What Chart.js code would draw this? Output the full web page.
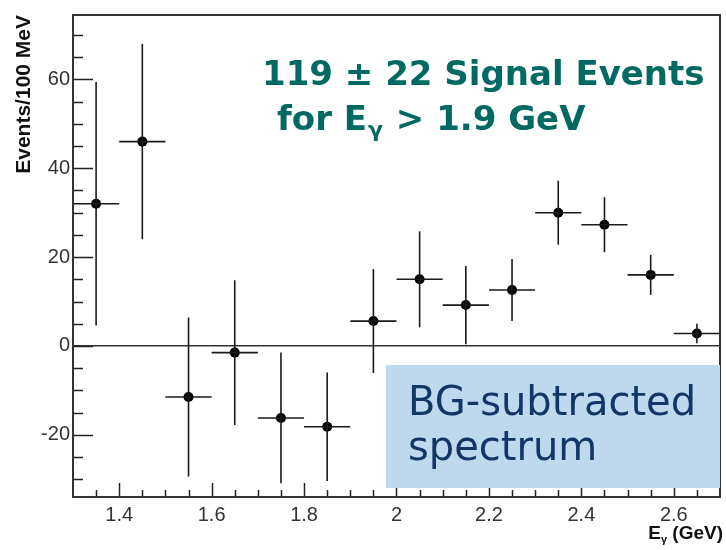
<!DOCTYPE html>
<html><head><meta charset="utf-8">
<script src="https://cdn.jsdelivr.net/npm/chart.js@4/dist/chart.umd.min.js"></script>
<style>html,body{margin:0;padding:0;background:#fff}#wrap{width:726px;height:550px;position:relative}</style>
</head><body><div id="wrap"><canvas id="c" width="726" height="550"></canvas></div>
<script>
// ---- data ----
const binCenters = [1.35, 1.45, 1.55, 1.65, 1.75, 1.85, 1.95, 2.05, 2.15, 2.25, 2.35, 2.45, 2.55, 2.65];
const eventCounts = [32.0, 46.0, -11.5, -1.5, -16.2, -18.2, 5.6, 15.0, 9.2, 12.6, 30.0, 27.3, 16.0, 2.8];
const eventErrors = [27.4, 22.0, 17.9, 16.3, 14.7, 12.2, 11.7, 10.8, 8.8, 7.0, 7.2, 6.2, 4.5, 2.2];
const binHalfWidth = 0.05;
const xTickLabels = [1.4, 1.6, 1.8, 2, 2.2, 2.4, 2.6];
const yTickLabels = [-20, 0, 20, 40, 60];
const yTitle = 'Events/100 MeV';
const noteLine1 = '119 ± 22 Signal Events';
const noteLine2 = ['for E', 'γ', ' > 1.9 GeV'];
const boxLines = ['BG-subtracted', 'spectrum'];

// ---- datasets ----
const ink = '#1a1a1a';
const datasets = [];
binCenters.forEach((x, i) => {
  const y = eventCounts[i], e = eventErrors[i];
  datasets.push({ data: [{x: x, y: y - e}, {x: x, y: y + e}], showLine: true, pointRadius: 0, borderColor: ink, borderWidth: 1.6 });
  datasets.push({ data: [{x: x - binHalfWidth, y: y}, {x: x + binHalfWidth, y: y}], showLine: true, pointRadius: 0, borderColor: ink, borderWidth: 1.6 });
});
datasets.push({ data: binCenters.map((x, i) => ({x: x, y: eventCounts[i]})), showLine: false, pointRadius: 5, pointBackgroundColor: '#000', pointBorderColor: '#000', pointBorderWidth: 0 });

const near = (v, arr) => arr.some(a => Math.abs(a - v) < 1e-6);
const sans = '"Liberation Sans", Arial, sans-serif';
const comic = '"Comic Sans MS", "DejaVu Sans", sans-serif';

const decor = {
  id: 'decor',
  afterDraw(chart) {
    const ctx = chart.ctx, a = chart.chartArea;
    const xs = chart.scales.x, ys = chart.scales.y;
    ctx.save();
    ctx.strokeStyle = '#222';
    ctx.lineWidth = 1.5;
    // inward ticks
    ctx.beginPath();
    ys.ticks.forEach(t => {
      const p = Math.round(ys.getPixelForValue(t.value)) + 0.5;
      if (p < a.top + 1 || p > a.bottom - 1) return;
      const len = near(t.value, yTickLabels) || Math.abs(t.value % 20) < 1e-6 ? 20 : 10;
      ctx.moveTo(a.left, p); ctx.lineTo(a.left + len, p);
    });
    xs.ticks.forEach(t => {
      const p = Math.round(xs.getPixelForValue(t.value)) + 0.5;
      if (p < a.left + 1 || p > a.right - 1) return;
      const len = near(t.value, xTickLabels) ? 14 : 7;
      ctx.moveTo(p, a.bottom); ctx.lineTo(p, a.bottom - len);
    });
    ctx.stroke();
    // frame
    ctx.lineWidth = 2;
    ctx.strokeStyle = '#333';
    ctx.strokeRect(a.left, a.top, a.right - a.left, a.bottom - a.top);

    // y title
    ctx.fillStyle = '#111';
    ctx.font = 'bold 21px ' + sans;
    ctx.translate(24, a.top);
    ctx.rotate(-Math.PI / 2);
    ctx.textAlign = 'right';
    ctx.textBaseline = 'middle';
    ctx.fillText(yTitle, 0, 0);
    ctx.setTransform(1, 0, 0, 1, 0, 0);

    // x title E_γ (GeV)
    ctx.textBaseline = 'alphabetic';
    ctx.textAlign = 'left';
    const f1 = 'bold 19px ' + sans;
    const f2 = 'bold 11px ' + sans;
    ctx.font = f1; const wE = ctx.measureText('E').width; const wR = ctx.measureText(' (GeV)').width;
    ctx.font = f2; const wG = ctx.measureText('γ').width;
    let x0 = 723 - (wE + wG + wR);
    ctx.font = f1; ctx.fillText('E', x0, 539);
    ctx.font = f2; ctx.fillText('γ', x0 + wE, 543);
    ctx.font = f1; ctx.fillText(' (GeV)', x0 + wE + wG, 539);

    // teal note
    ctx.fillStyle = '#006a62';
    const nf = 'bold 34px ' + comic;
    const nfs = 'bold 22px ' + comic;
    ctx.font = nf;
    ctx.fillText(noteLine1, 262, 85);
    let cx = 277;
    ctx.fillText(noteLine2[0], cx, 130); cx += ctx.measureText(noteLine2[0]).width;
    ctx.font = nfs; ctx.fillText(noteLine2[1], cx + 1, 137); cx += ctx.measureText(noteLine2[1]).width + 2;
    ctx.font = nf; ctx.fillText(noteLine2[2], cx, 130);

    // blue box
    ctx.fillStyle = '#bed8ee';
    ctx.fillRect(386, 365, 334, 123);
    ctx.fillStyle = '#123766';
    ctx.font = '40px ' + comic;
    ctx.fillText(boxLines[0], 408, 415);
    ctx.fillText(boxLines[1], 408, 460);
    ctx.restore();
  }
};

new Chart(document.getElementById('c'), {
  type: 'scatter',
  data: { datasets: datasets },
  options: {
    responsive: false, animation: false, devicePixelRatio: 1,
    layout: { padding: { top: 10, right: 4, left: 0, bottom: 0 } },
    plugins: { legend: { display: false }, tooltip: { enabled: false } },
    scales: {
      x: {
        type: 'linear', min: 1.3, max: 2.7,
        afterFit(s) { s.height = 53; },
        grid: { display: true, drawTicks: false, color: 'rgba(0,0,0,0)' },
        border: { display: true, color: '#333', width: 2 },
        ticks: {
          stepSize: 0.05, includeBounds: false, autoSkip: false, maxRotation: 0, padding: 6,
          color: '#333', font: { family: sans, size: 20 },
          callback: (v) => near(v, xTickLabels) ? String(Number(v.toFixed(2))) : ''
        }
      },
      y: {
        min: -34, max: 74.5,
        afterFit(s) { s.width = 73; },
        grid: { display: true, drawTicks: false, lineWidth: 1.5, color: (c) => (c.tick && Math.abs(c.tick.value) < 1e-9) ? '#333' : 'rgba(0,0,0,0)' },
        border: { display: true, color: '#333', width: 2 },
        ticks: {
          stepSize: 5, includeBounds: false, autoSkip: false, padding: 3,
          color: '#333', font: { family: sans, size: 20 },
          callback: (v) => near(v, yTickLabels) ? String(v) : ''
        }
      }
    }
  },
  plugins: [decor]
});
</script>
</body></html>
